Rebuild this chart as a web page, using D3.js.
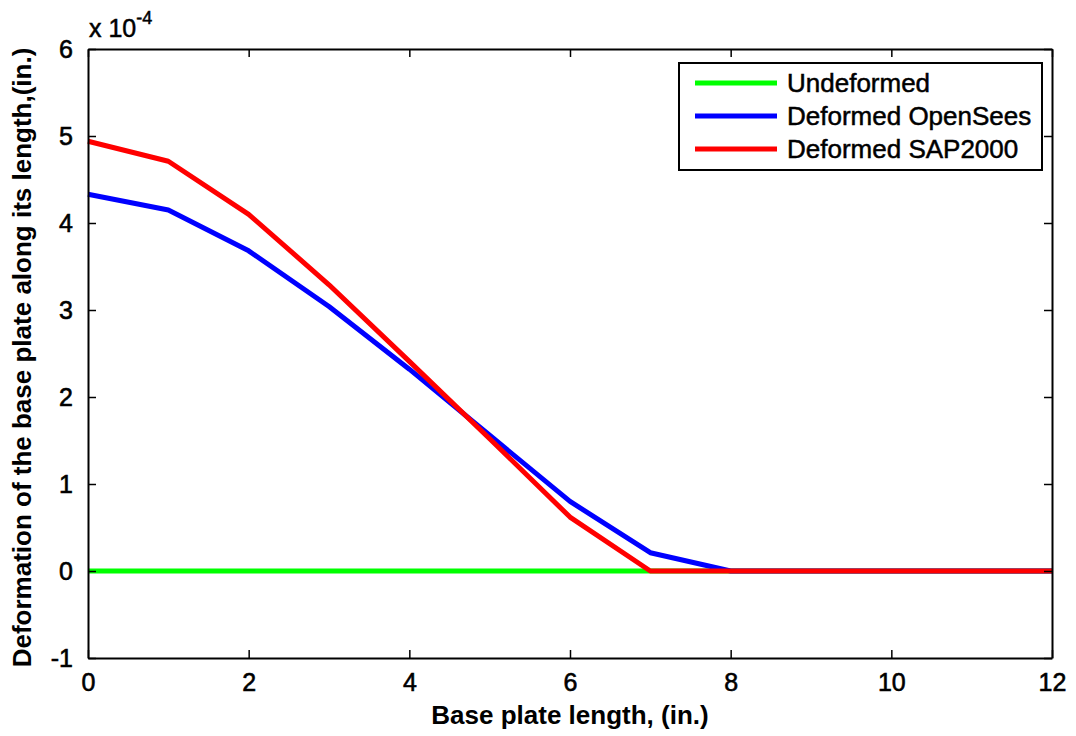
<!DOCTYPE html>
<html>
<head>
<meta charset="utf-8">
<script src="https://cdn.jsdelivr.net/npm/d3@7"></script>
<style>
  body { margin: 0; background: #fff; }
  text { font-family: "Liberation Sans", Arial, sans-serif; fill: #000; }
</style>
</head>
<body>
<div id="chart"></div>
<script>
/// Data (values in units of 1e-4 in.) ///
var xs = [0, 1, 2, 3, 4, 5, 6, 7, 8, 9, 10, 11, 12];
var undeformed = [0, 0, 0, 0, 0, 0, 0, 0, 0, 0, 0, 0, 0];
var openSees = [4.33, 4.15, 3.68, 3.04, 2.32, 1.56, 0.80, 0.21, 0, 0, 0, 0, 0];
var sap2000 = [4.94, 4.71, 4.10, 3.29, 2.41, 1.52, 0.62, 0, 0, 0, 0, 0, 0];
var seriesNames = ["Undeformed", "Deformed OpenSees", "Deformed SAP2000"];
var seriesColors = ["#00ff00", "#0000ff", "#ff0000"];
var xTicks = [0, 2, 4, 6, 8, 10, 12];
var yTicks = [-1, 0, 1, 2, 3, 4, 5, 6];

/// Chart area ///
var svgWidth = 1076, svgHeight = 736;
var margin = { top: 49, right: 24, bottom: 78, left: 88 };
var width = svgWidth - margin.left - margin.right;
var height = svgHeight - margin.top - margin.bottom;

var svg = d3.select("#chart").append("svg")
    .attr("width", svgWidth)
    .attr("height", svgHeight);

var g = svg.append("g")
    .attr("transform", `translate(${margin.left}, ${margin.top})`);

var x = d3.scaleLinear().domain([0, 12]).range([0, width]);
var y = d3.scaleLinear().domain([-1, 6]).range([height, 0]);

// lines
var line = d3.line()
    .x((d, i) => x(xs[i]))
    .y(d => y(d));

[undeformed, openSees, sap2000].forEach(function (vals, i) {
    g.append("path")
        .datum(vals)
        .attr("d", line)
        .attr("fill", "none")
        .attr("stroke", seriesColors[i])
        .attr("stroke-width", 5)
        .attr("stroke-linejoin", "round");
});

// axes with inward ticks, on all four sides (box)
var plain = d => String(d);
var bottomAxis = d3.axisBottom(x).tickValues(xTicks).tickFormat(plain).tickSizeInner(-8).tickSizeOuter(0);
var leftAxis = d3.axisLeft(y).tickValues(yTicks).tickFormat(plain).tickSizeInner(-8).tickSizeOuter(0).tickPadding(15);
var topAxis = d3.axisTop(x).tickValues(xTicks).tickSizeInner(-8).tickSizeOuter(0).tickFormat("");
var rightAxis = d3.axisRight(y).tickValues(yTicks).tickSizeInner(-8).tickSizeOuter(0).tickFormat("");

var gb = g.append("g").attr("transform", `translate(0, ${height})`).call(bottomAxis);
var gl = g.append("g").call(leftAxis);
var gt = g.append("g").call(topAxis);
var gr = g.append("g").attr("transform", `translate(${width}, 0)`).call(rightAxis);

[gb, gl, gt, gr].forEach(function (ax) {
    ax.selectAll(".domain").attr("stroke", "#000").attr("stroke-width", 2);
    ax.selectAll(".tick line").attr("stroke", "#000").attr("stroke-width", 1.5);
    ax.selectAll("text").style("font-size", "25px").attr("fill", "#000")
        .attr("stroke", "#000").attr("stroke-width", 0.6)
        .style("font-family", "'Liberation Sans', Arial, sans-serif");
});
gb.selectAll("text").attr("dy", "0.71em").attr("y", 15);

// exponent label
var expo = g.append("text")
    .attr("x", 1)
    .attr("y", -12)
    .attr("stroke", "#000").attr("stroke-width", 0.5)
    .style("font-size", "25px");
expo.append("tspan").text("x 10");
expo.append("tspan").attr("dy", -13).style("font-size", "18px").text("-4");

// axis titles
g.append("text")
    .attr("x", width / 2)
    .attr("y", height + 66)
    .attr("text-anchor", "middle")
    .style("font-size", "26px")
    .style("font-weight", "bold")
    .text("Base plate length, (in.)");

g.append("text")
    .attr("transform", `translate(${-57}, ${height / 2 + 4}) rotate(-90)`)
    .attr("text-anchor", "middle")
    .style("font-size", "26px")
    .style("font-weight", "bold")
    .text("Deformation of the base plate along its length,(in.)");

// legend
var legend = g.append("g").attr("transform", `translate(${679 - margin.left}, ${63 - margin.top})`);
legend.append("rect")
    .attr("width", 363)
    .attr("height", 107)
    .attr("fill", "#fff")
    .attr("stroke", "#000")
    .attr("stroke-width", 2);

seriesNames.forEach(function (name, i) {
    var ly = 20 + i * 33;
    legend.append("line")
        .attr("x1", 16).attr("x2", 98)
        .attr("y1", ly).attr("y2", ly)
        .attr("stroke", seriesColors[i])
        .attr("stroke-width", 5);
    legend.append("text")
        .attr("x", 108)
        .attr("y", ly)
        .attr("dy", "0.35em")
        .attr("stroke", "#000").attr("stroke-width", 0.5)
        .style("font-size", "26px")
        .text(name);
});
</script>
</body>
</html>
